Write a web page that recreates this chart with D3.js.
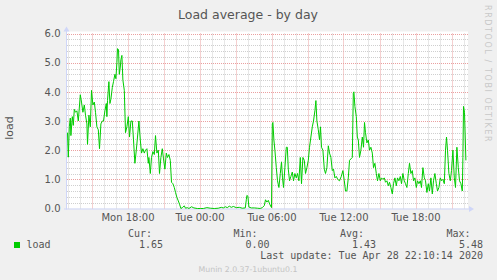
<!DOCTYPE html>
<html>
<head>
<meta charset="utf-8">
<script src="https://cdn.jsdelivr.net/npm/d3@7"></script>
<style>
  html, body { margin: 0; padding: 0; background: #f0f0f0; }
  svg { display: block; }
  text { font-family: "DejaVu Sans", sans-serif; fill: #555; }
  .mono { font-family: "DejaVu Sans Mono", monospace; font-size: 10px; }
</style>
</head>
<body>
<div id="chart"></div>
<script>
// Size of the page and plot area
const WIDTH = 497;
const HEIGHT = 280;
const LEFT = 67;
const RIGHT = 468;
const TOP = 33.5;
const BOTTOM = 208.5;

// Sample times, minutes after Mon 27 Apr 2020 12:00
const minutes = [
  60, 64, 69, 74, 77, 84, 89, 94, 100, 107, 114, 124, 130, 137, 144, 150, 157, 160, 167, 174,
  180, 187, 194, 200, 207, 214, 220, 227, 234, 240, 247, 254, 257, 260, 267, 272, 277, 284, 290, 297,
  302, 307, 310, 315, 319, 324, 327, 332, 337, 344, 350, 357, 364, 370, 377, 384, 390, 397, 404, 410,
  417, 424, 430, 437, 444, 450, 457, 464, 467, 474, 480, 487, 494, 500, 507, 514, 520, 527, 534, 540,
  547, 554, 560, 567, 574, 580, 587, 594, 600, 607, 614, 620, 627, 634, 644, 650, 659, 667, 680, 692,
  709, 724, 739, 757, 774, 794, 814, 829, 839, 849, 859, 869, 879, 889, 904, 919, 934, 949, 954, 957,
  962, 967, 979, 994, 1009, 1024, 1034, 1044, 1050, 1057, 1064, 1071, 1080, 1084, 1087, 1092, 1097, 1104, 1110, 1117,
  1124, 1130, 1135, 1140, 1147, 1154, 1159, 1164, 1170, 1177, 1184, 1190, 1197, 1204, 1210, 1217, 1224, 1230, 1237, 1244,
  1250, 1257, 1264, 1270, 1277, 1284, 1290, 1297, 1302, 1307, 1314, 1320, 1325, 1330, 1337, 1344, 1350, 1357, 1364, 1370,
  1377, 1384, 1390, 1397, 1404, 1411, 1420, 1429, 1437, 1444, 1450, 1457, 1464, 1470, 1477, 1484, 1489, 1492, 1497, 1504,
  1509, 1514, 1520, 1527, 1534, 1540, 1545, 1550, 1557, 1564, 1570, 1577, 1584, 1590, 1597, 1604, 1610, 1617, 1624, 1630,
  1637, 1644, 1650, 1657, 1664, 1670, 1677, 1684, 1690, 1697, 1704, 1710, 1717, 1724, 1730, 1737, 1744, 1750, 1757, 1764,
  1770, 1777, 1784, 1790, 1797, 1804, 1810, 1817, 1824, 1830, 1837, 1844, 1850, 1857, 1864, 1870, 1877, 1884, 1890, 1897,
  1904, 1910, 1917, 1924, 1930, 1937, 1944, 1950, 1955, 1960, 1967, 1974, 1980, 1987, 1994, 2000, 2007, 2014, 2020, 2027,
  2034, 2037, 2040, 2045, 2052
];

// Load average at those times
const load = [
  2.6, 1.76, 2.8, 3.1, 2.5, 3.15, 2.85, 3.4, 3.3, 3.35, 3.0, 3.9, 3.65, 3.3, 3.55, 3.2, 2.9, 2.2, 3.2, 2.8,
  4.05, 3.55, 3.65, 3.3, 2.8, 2.7, 2.05, 2.9, 3.0, 3.0, 3.35, 3.6, 3.15, 3.7, 4.35, 3.6, 3.75, 4.15, 4.35, 4.6,
  4.45, 5.0, 5.48, 5.45, 4.6, 4.85, 5.1, 5.25, 4.4, 4.05, 2.6, 2.8, 3.15, 2.45, 3.0, 3.0, 2.35, 1.55, 2.0, 2.45,
  3.0, 2.35, 1.9, 2.05, 1.9, 2.0, 2.05, 1.55, 1.75, 1.2, 1.75, 1.95, 1.85, 2.5, 1.9, 2.0, 1.2, 1.75, 2.05, 1.7,
  1.35, 1.9, 1.75, 1.85, 1.65, 0.9, 0.85, 0.72, 0.55, 0.38, 0.26, 0.15, 0.0, 0.03, 0.09, 0.01, 0.03, 0.0, 0.06, 0.02,
  0.0, 0.0, 0.0, 0.03, 0.01, 0.0, 0.01, 0.04, 0.02, 0.06, 0.03, 0.08, 0.04, 0.07, 0.03, 0.04, 0.01, 0.02, 0.3, 0.45,
  0.42, 0.05, 0.02, 0.02, 0.01, 0.0, 0.03, 0.1, 0.3, 0.22, 0.28, 0.15, 0.03, 2.9, 2.95, 2.35, 2.0, 1.4, 0.95, 0.72,
  1.2, 1.6, 1.05, 0.72, 1.4, 2.1, 2.1, 1.35, 0.95, 1.1, 1.25, 0.95, 1.2, 1.05, 1.2, 0.95, 1.75, 0.85, 1.75, 1.65,
  1.2, 1.4, 1.65, 2.1, 2.45, 2.8, 3.0, 3.35, 3.7, 3.0, 2.7, 2.35, 2.8, 2.1, 2.0, 1.35, 1.2, 1.4, 2.15, 1.9,
  1.75, 1.3, 1.35, 1.05, 1.1, 1.0, 0.95, 1.1, 1.3, 0.95, 0.6, 0.6, 1.05, 1.65, 1.7, 1.75, 3.95, 4.0, 3.5, 3.15,
  2.45, 2.35, 1.75, 2.0, 2.45, 2.1, 2.95, 2.6, 2.25, 2.35, 2.0, 2.1, 1.9, 1.4, 1.55, 1.2, 0.95, 1.2, 0.95, 1.05,
  1.0, 1.05, 0.9, 0.95, 0.78, 0.9, 0.72, 0.5, 0.85, 1.05, 0.78, 1.05, 0.95, 1.1, 0.85, 1.2, 0.95, 0.85, 0.72, 1.2,
  1.55, 1.2, 1.3, 0.95, 1.05, 0.72, 0.95, 0.85, 0.95, 0.72, 1.4, 1.05, 0.95, 0.55, 0.85, 0.6, 1.05, 0.5, 0.95, 1.2,
  0.85, 0.6, 0.72, 1.05, 0.95, 1.0, 0.85, 2.0, 2.45, 2.0, 1.2, 0.95, 1.3, 2.0, 1.05, 0.72, 2.1, 1.4, 0.95, 0.85,
  0.6, 1.75, 3.5, 3.3, 1.65
];

// Legend texts
const legendHeads = ["Cur:", "Min:", "Avg:", "Max:"];
const legendValues = ["1.65", "0.00", "1.43", "5.48"];
const yTicks = [0, 1, 2, 3, 4, 5, 6];

const base = new Date(2020, 3, 27, 12, 0, 0);
const toDate = (m) => new Date(base.getTime() + m * 60000);

var svg = d3
  .select("#chart")
  .append("svg")
  .attr("width", WIDTH)
  .attr("height", HEIGHT);

svg.append("rect")
  .attr("width", WIDTH)
  .attr("height", HEIGHT)
  .attr("fill", "#f0f0f0");

// Scales
const xScale = d3
  .scaleTime()
  .domain([new Date(2020, 3, 27, 12, 57, 30), new Date(2020, 3, 28, 22, 22, 30)])
  .range([LEFT, RIGHT]);

const yScale = d3.scaleLinear().domain([0, 6]).range([BOTTOM, TOP]);

// Canvas
svg.append("rect")
  .attr("x", LEFT)
  .attr("y", TOP - 2)
  .attr("width", RIGHT - LEFT)
  .attr("height", BOTTOM - TOP + 2)
  .attr("fill", "#fff");

// Minor grid
const hours = xScale.ticks(d3.timeHour.every(1));
svg.append("g")
  .selectAll("line")
  .data(hours.filter((d) => d.getHours() % 3 != 0))
  .enter()
  .append("line")
  .attr("x1", (d) => Math.round(xScale(d)) + 0.5)
  .attr("x2", (d) => Math.round(xScale(d)) + 0.5)
  .attr("y1", TOP)
  .attr("y2", BOTTOM)
  .attr("stroke", "#cfcfcf")
  .attr("stroke-dasharray", "1,1");

svg.append("g")
  .selectAll("line")
  .data(d3.range(0, 30).filter((i) => i % 5 != 0).map((i) => i / 5))
  .enter()
  .append("line")
  .attr("x1", LEFT)
  .attr("x2", RIGHT)
  .attr("y1", (d) => Math.round(yScale(d)) + 0.5)
  .attr("y2", (d) => Math.round(yScale(d)) + 0.5)
  .attr("stroke", "#cfcfcf")
  .attr("stroke-dasharray", "1,1");

// Major grid
svg.append("g")
  .selectAll("line")
  .data(hours.filter((d) => d.getHours() % 3 == 0))
  .enter()
  .append("line")
  .attr("x1", (d) => Math.round(xScale(d)) + 0.5)
  .attr("x2", (d) => Math.round(xScale(d)) + 0.5)
  .attr("y1", TOP)
  .attr("y2", BOTTOM)
  .attr("stroke", "#eaa0a0")
  .attr("stroke-dasharray", "1,1");

svg.append("g")
  .selectAll("line")
  .data(yTicks.slice(1))
  .enter()
  .append("line")
  .attr("x1", LEFT)
  .attr("x2", RIGHT)
  .attr("y1", (d) => Math.round(yScale(d)) + 0.5)
  .attr("y2", (d) => Math.round(yScale(d)) + 0.5)
  .attr("stroke", "#eaa0a0")
  .attr("stroke-dasharray", "1,1");

// Axes (drawn by d3, then restyled like rrdtool)
const yAxis = d3.axisLeft(yScale).tickValues(yTicks).tickFormat(d3.format(".1f")).tickSize(0).tickPadding(7);
svg.append("g")
  .attr("transform", "translate(" + (LEFT + 0.5) + ",0)")
  .call(yAxis)
  .call((g) => g.select(".domain").remove())
  .selectAll("text")
  .style("font-size", "10px")
  .style("font-family", "DejaVu Sans")
  .attr("fill", "#555");

const xAxis = d3
  .axisBottom(xScale)
  .ticks(d3.timeHour.every(6))
  .tickFormat(d3.timeFormat("%a %H:%M"))
  .tickSize(0)
  .tickPadding(5);
svg.append("g")
  .attr("transform", "translate(0," + (BOTTOM + 0.5) + ")")
  .call(xAxis)
  .call((g) => g.select(".domain").remove())
  .selectAll("text")
  .style("font-size", "10px")
  .style("font-family", "DejaVu Sans")
  .attr("fill", "#555");

// Axis lines with arrows
const AXIS = "#cfd6f8";
svg.append("line")
  .attr("x1", LEFT - 0.5).attr("x2", LEFT - 0.5)
  .attr("y1", BOTTOM + 1).attr("y2", TOP - 4)
  .attr("stroke", AXIS);
svg.append("path")
  .attr("d", `M${LEFT - 3.5},${TOP - 2} L${LEFT - 0.5},${TOP - 7} L${LEFT + 2.5},${TOP - 2} Z`)
  .attr("fill", AXIS);
svg.append("line")
  .attr("x1", LEFT - 3).attr("x2", RIGHT + 3)
  .attr("y1", BOTTOM + 0.5).attr("y2", BOTTOM + 0.5)
  .attr("stroke", AXIS);
svg.append("path")
  .attr("d", `M${RIGHT + 1},${BOTTOM - 2.5} L${RIGHT + 6},${BOTTOM + 0.5} L${RIGHT + 1},${BOTTOM + 3.5} Z`)
  .attr("fill", AXIS);

// Load line
const line = d3
  .line()
  .x((d, i) => xScale(toDate(minutes[i])))
  .y((d) => yScale(d));

svg.append("path")
  .datum(load)
  .attr("d", line)
  .attr("fill", "none")
  .attr("stroke", "#00cc00")
  .attr("stroke-width", 1);

// Title and labels
svg.append("text")
  .attr("x", 248)
  .attr("y", 19)
  .attr("text-anchor", "middle")
  .style("font-size", "12.5px")
  .text("Load average - by day");

svg.append("text")
  .attr("transform", "translate(13,128) rotate(-90)")
  .attr("text-anchor", "middle")
  .style("font-size", "11px")
  .text("load");

svg.append("text")
  .attr("transform", "translate(485,5) rotate(90)")
  .style("font-size", "8px")
  .style("letter-spacing", "1.6px")
  .style("fill", "#c8c8c8")
  .text("RRDTOOL / TOBI OETIKER");

// Legend
const headX = [128, 233.5, 340, 446.5];
const valueX = [163, 269.5, 376, 483];

svg.append("g")
  .selectAll("text")
  .data(legendHeads)
  .enter()
  .append("text")
  .attr("class", "mono")
  .attr("x", (d, i) => headX[i])
  .attr("y", 237)
  .text((d) => d);

svg.append("rect")
  .attr("x", 14)
  .attr("y", 242)
  .attr("width", 6)
  .attr("height", 6)
  .attr("fill", "#00cc00");

svg.append("text")
  .attr("class", "mono")
  .attr("x", 26.5)
  .attr("y", 248)
  .text("load");

svg.append("g")
  .selectAll("text")
  .data(legendValues)
  .enter()
  .append("text")
  .attr("class", "mono")
  .attr("x", (d, i) => valueX[i])
  .attr("y", 248)
  .attr("text-anchor", "end")
  .text((d) => d);

svg.append("text")
  .attr("class", "mono")
  .attr("x", 483)
  .attr("y", 259)
  .attr("text-anchor", "end")
  .text("Last update: Tue Apr 28 22:10:14 2020");

svg.append("text")
  .attr("x", 248)
  .attr("y", 272)
  .attr("text-anchor", "middle")
  .style("font-size", "7.8px")
  .style("fill", "#c4c4c4")
  .text("Munin 2.0.37-1ubuntu0.1");
</script>
</body>
</html>
